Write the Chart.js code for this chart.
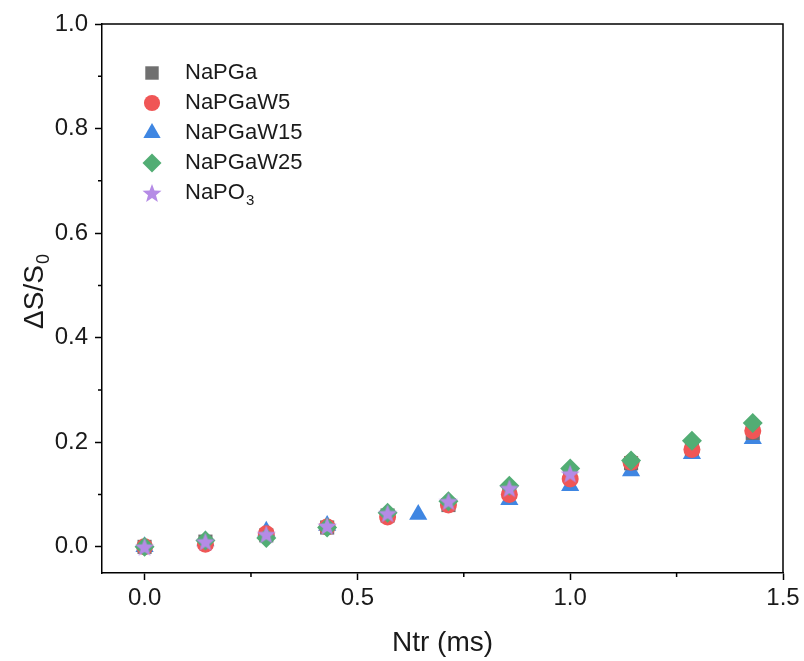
<!DOCTYPE html>
<html>
<head>
<meta charset="utf-8">
<title>Relaxation</title>
<script src="https://cdn.jsdelivr.net/npm/chart.js@4.4.1/dist/chart.umd.min.js"></script>
<style>
  html, body { margin: 0; padding: 0; background: #fff; }
  #wrap { width: 804px; height: 661px; }
</style>
</head>
<body>
<div id="wrap"><canvas id="relaxChart" width="804" height="661"></canvas></div>
<script>
// Ntr sampling (ms) shared by most series
const ntr = [0, 0.143, 0.286, 0.429, 0.571, 0.714, 0.857, 1.0, 1.143, 1.286, 1.429];
const ntrW15 = [0, 0.143, 0.286, 0.429, 0.643, 0.857, 1.0, 1.143, 1.286, 1.429];
const ntrPO3 = [0, 0.143, 0.286, 0.429, 0.571, 0.714, 0.857, 1.0];

const napga   = [0, 0.010, 0.022, 0.037, 0.060, 0.080, 0.105, 0.135, 0.160, 0.188, 0.218];
const napgaW5 = [0, 0.005, 0.025, 0.038, 0.057, 0.080, 0.100, 0.130, 0.162, 0.186, 0.222];
const napgaW15 = [0, 0.011, 0.030, 0.041, 0.062, 0.090, 0.117, 0.145, 0.178, 0.207];
const napgaW25 = [0, 0.012, 0.017, 0.037, 0.065, 0.087, 0.117, 0.150, 0.165, 0.203, 0.237];
const napo3   = [0, 0.010, 0.024, 0.040, 0.064, 0.087, 0.112, 0.140];

const xTicks = [0, 0.5, 1.0, 1.5];
const yTicks = [0, 0.2, 0.4, 0.6, 0.8, 1.0];
const xMinor = [0.25, 0.75, 1.25];
const yMinor = [0.1, 0.3, 0.5, 0.7, 0.9];

const FONT = '"Liberation Sans", Arial, sans-serif';
const INK = '#1a1a1a';

// filled five-point star used as a point style
function makeStar(color, size) {
  const c = document.createElement('canvas');
  c.width = size; c.height = size;
  const g = c.getContext('2d');
  const cx = size / 2, cy = size / 2 + 0.9;
  const ro = size / 2, ri = ro * 0.42;
  g.beginPath();
  for (let i = 0; i < 10; i++) {
    const r = i % 2 ? ri : ro;
    const a = -Math.PI / 2 + i * Math.PI / 5;
    g.lineTo(cx + r * Math.cos(a), cy + r * Math.sin(a));
  }
  g.closePath();
  g.fillStyle = color;
  g.fill();
  return c;
}

const series = [
  { label: 'NaPGa',    xs: ntr,    ys: napga,    color: '#707070', style: 'rect',     radius: 10,  order: 3 },
  { label: 'NaPGaW5',  xs: ntr,    ys: napgaW5,  color: '#f05656', style: 'circle',   radius: 8.5, order: 2 },
  { label: 'NaPGaW15', xs: ntrW15, ys: napgaW15, color: '#3f86e2', style: 'triangle', radius: 10.5, order: 4 },
  { label: 'NaPGaW25', xs: ntr,    ys: napgaW25, color: '#52ad74', style: 'rectRot',  radius: 10,  order: 1 },
  { label: 'NaPO3',    xs: ntrPO3, ys: napo3,    color: '#b58be6', style: makeStar('#b58be6', 20), radius: 9, order: 0 }
];

const datasets = series.map(s => ({
  label: s.label,
  data: s.xs.map((x, i) => ({ x: x, y: s.ys[i] })),
  showLine: false,
  pointStyle: s.style,
  pointRadius: s.radius,
  pointBackgroundColor: s.color,
  pointBorderWidth: 0,
  pointBorderColor: s.color,
  order: s.order
}));

// frame, minor ticks, axis titles and the inset legend
const decorations = {
  id: 'decorations',
  afterDraw(chart) {
    const ctx = chart.ctx;
    const area = chart.chartArea;
    const xs = chart.scales.x, ys = chart.scales.y;
    ctx.save();
    ctx.strokeStyle = '#000';
    ctx.lineWidth = 1.5;
    ctx.beginPath();
    ctx.moveTo(area.left, area.top);
    ctx.lineTo(area.right, area.top);
    ctx.lineTo(area.right, area.bottom);
    ctx.stroke();

    ctx.beginPath();
    xMinor.forEach(v => {
      const px = xs.getPixelForValue(v);
      ctx.moveTo(px, area.bottom);
      ctx.lineTo(px, area.bottom + 4);
    });
    yMinor.forEach(v => {
      const py = ys.getPixelForValue(v);
      ctx.moveTo(area.left, py);
      ctx.lineTo(area.left - 4, py);
    });
    ctx.stroke();

    ctx.fillStyle = INK;
    ctx.font = '28px ' + FONT;
    ctx.textAlign = 'center';
    ctx.textBaseline = 'middle';
    ctx.fillText('Ntr (ms)', (area.left + area.right) / 2, 643);

    // y title with subscript
    ctx.save();
    ctx.translate(35, 292);
    ctx.rotate(-Math.PI / 2);
    ctx.font = '28px ' + FONT;
    const main = 'ΔS/S';
    const mw = ctx.measureText(main).width;
    ctx.font = '18px ' + FONT;
    const sw = ctx.measureText('0').width;
    const start = -(mw + sw) / 2;
    ctx.textAlign = 'left';
    ctx.font = '28px ' + FONT;
    ctx.fillText(main, start, 0);
    ctx.font = '18px ' + FONT;
    ctx.fillText('0', start + mw + 1, 9);
    ctx.restore();

    // legend
    series.forEach((s, i) => {
      const ly = 73 + i * 30;
      ctx.fillStyle = s.color;
      Chart.helpers.drawPoint(ctx, { pointStyle: s.style, radius: s.radius * 0.95, rotation: 0, borderWidth: 0 }, 152, ly);
      ctx.fillStyle = INK;
      ctx.textAlign = 'left';
      ctx.textBaseline = 'middle';
      ctx.font = '22px ' + FONT;
      if (s.label === 'NaPO3') {
        ctx.fillText('NaPO', 185, ly);
        const w = ctx.measureText('NaPO').width;
        ctx.font = '15px ' + FONT;
        ctx.fillText('3', 185 + w + 1, ly + 8);
      } else {
        ctx.fillText(s.label, 185, ly);
      }
    });
    ctx.restore();
  }
};

const ctx = document.getElementById('relaxChart').getContext('2d');
new Chart(ctx, {
  type: 'scatter',
  data: { datasets: datasets },
  options: {
    responsive: false,
    animation: false,
    layout: { padding: { top: 24, right: 21, left: 0, bottom: 0 } },
    plugins: {
      legend: { display: false },
      tooltip: { enabled: false }
    },
    scales: {
      x: {
        type: 'linear',
        min: -0.1,
        max: 1.5,
        afterBuildTicks: axis => { axis.ticks = xTicks.map(v => ({ value: v })); },
        afterFit: axis => { axis.height = 88; },
        border: { display: true, color: '#000', width: 1.5 },
        grid: { drawOnChartArea: false, drawTicks: true, tickLength: 7, tickColor: '#000', tickWidth: 1.5 },
        ticks: {
          autoSkip: false,
          maxRotation: 0,
          padding: 4,
          color: INK,
          font: { family: FONT, size: 24 },
          callback: v => v.toFixed(1)
        }
      },
      y: {
        type: 'linear',
        min: -0.05,
        max: 1.0,
        afterBuildTicks: axis => { axis.ticks = yTicks.map(v => ({ value: v })); },
        afterFit: axis => { axis.width = 102; },
        border: { display: true, color: '#000', width: 1.5 },
        grid: { drawOnChartArea: false, drawTicks: true, tickLength: 7, tickColor: '#000', tickWidth: 1.5 },
        ticks: {
          autoSkip: false,
          padding: 7,
          color: INK,
          font: { family: FONT, size: 24 },
          callback: v => v.toFixed(1)
        }
      }
    }
  },
  plugins: [decorations]
});
</script>
</body>
</html>
